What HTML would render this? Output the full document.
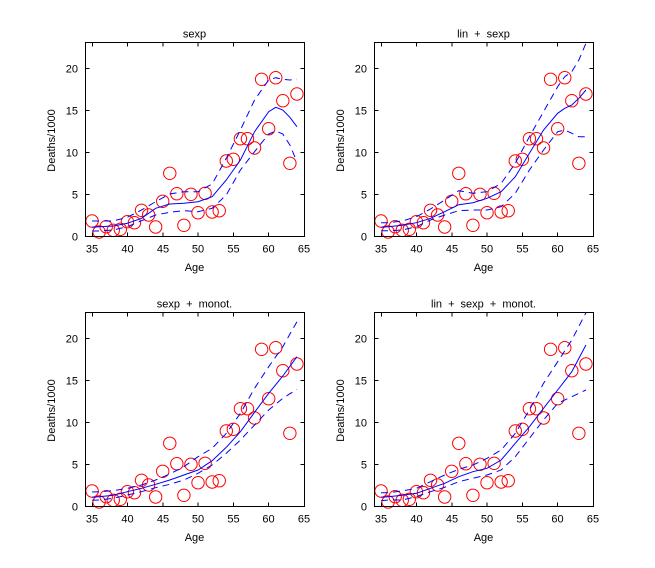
<!DOCTYPE html>
<html><head><meta charset="utf-8"><style>
html,body{margin:0;padding:0;background:#fff;}
svg{display:block;}
text{font-family:"Liberation Sans",sans-serif;font-size:11px;fill:#000;}
.t{word-spacing:3px;}
.ax{fill:none;stroke:#000;stroke-width:1;}
.pt{fill:none;stroke:#f00;stroke-width:1;}
.m{fill:none;stroke:#00f;stroke-width:1;}
.d{fill:none;stroke:#00f;stroke-width:1;stroke-dasharray:7 5;}
</style></head><body>
<svg width="655" height="568" viewBox="0 0 655 568" xmlns="http://www.w3.org/2000/svg">
<rect width="655" height="568" fill="#fff"/>
<defs>
<g id="pts">
<circle class="pt" r="6.2" cx="92.06" cy="221"/><circle class="pt" r="6.2" cx="99.13" cy="232"/><circle class="pt" r="6.2" cx="106.19" cy="226.7"/><circle class="pt" r="6.2" cx="113.26" cy="230.3"/><circle class="pt" r="6.2" cx="120.32" cy="229.3"/><circle class="pt" r="6.2" cx="127.39" cy="221.7"/><circle class="pt" r="6.2" cx="134.45" cy="222.7"/><circle class="pt" r="6.2" cx="141.52" cy="210.3"/><circle class="pt" r="6.2" cx="148.58" cy="215"/><circle class="pt" r="6.2" cx="155.65" cy="227"/><circle class="pt" r="6.2" cx="162.71" cy="201.3"/><circle class="pt" r="6.2" cx="169.77" cy="173.3"/><circle class="pt" r="6.2" cx="176.84" cy="193.7"/><circle class="pt" r="6.2" cx="183.9" cy="225.3"/><circle class="pt" r="6.2" cx="190.97" cy="194.3"/><circle class="pt" r="6.2" cx="198.03" cy="212.7"/><circle class="pt" r="6.2" cx="205.1" cy="193.3"/><circle class="pt" r="6.2" cx="212.16" cy="212"/><circle class="pt" r="6.2" cx="219.23" cy="210.7"/><circle class="pt" r="6.2" cx="226.29" cy="161"/><circle class="pt" r="6.2" cx="233.35" cy="159.3"/><circle class="pt" r="6.2" cx="240.42" cy="138.7"/><circle class="pt" r="6.2" cx="247.48" cy="138.7"/><circle class="pt" r="6.2" cx="254.55" cy="148"/><circle class="pt" r="6.2" cx="261.61" cy="79.3"/><circle class="pt" r="6.2" cx="268.68" cy="128.7"/><circle class="pt" r="6.2" cx="275.74" cy="77.7"/><circle class="pt" r="6.2" cx="282.81" cy="100.7"/><circle class="pt" r="6.2" cx="289.87" cy="163.3"/><circle class="pt" r="6.2" cx="296.94" cy="94"/>
</g>
<path id="frm" class="ax" d="M85.5 42.5H304.5V236.5H85.5Z
M85.5 236.5h4M85.5 194.5h4M85.5 152.5h4M85.5 110.5h4M85.5 68.5h4
M304.5 236.5h-4M304.5 194.5h-4M304.5 152.5h-4M304.5 110.5h-4M304.5 68.5h-4
M92.5 236.5v-4M127.5 236.5v-4M163 236.5v-4M198 236.5v-4M233.5 236.5v-4M268.5 236.5v-4
M92.5 42.5v4M127.5 42.5v4M163 42.5v4M198 42.5v4M233.5 42.5v4M268.5 42.5v4"/>
</defs>

<!-- Panel 1 -->
<g>
<use href="#pts"/>
<use href="#frm"/>
<polyline class="m" points="92.06,227.3 99.13,226.7 113.26,226 127.39,223.3 141.52,218.3 155.65,208.3 169.77,204 183.9,203.3 198.03,201.7 212.16,196.7 226.29,180 240.42,160 254.55,131.7 268.68,111.7 275.74,107.3 282.81,110 289.87,117.3 296.94,126.7"/>
<polyline class="d" points="92.06,221 99.13,221 113.26,221 127.39,217.3 141.52,210 155.65,201.7 169.77,194 183.9,191.7 198.03,191.7 212.16,184 226.29,158.3 240.42,130 254.55,100 268.68,80 275.74,77.7 282.81,79.3 289.87,80 296.94,79.3"/>
<polyline class="d" points="92.06,231 99.13,231 113.26,230 127.39,226.7 141.52,220.7 155.65,215 169.77,212.3 183.9,210.7 198.03,211.7 212.16,208.3 226.29,195 240.42,170 254.55,151.7 268.68,134 275.74,131 282.81,134 289.87,145 296.94,161.7"/>
<text class="t" x="194.5" y="37.5" text-anchor="middle">sexp</text>
<text x="78" y="240.5" text-anchor="end">0</text><text x="78" y="198.5" text-anchor="end">5</text><text x="78" y="156.5" text-anchor="end">10</text><text x="78" y="114.5" text-anchor="end">15</text><text x="78" y="72.5" text-anchor="end">20</text>
<text x="92" y="252.5" text-anchor="middle">35</text><text x="127.5" y="252.5" text-anchor="middle">40</text><text x="163" y="252.5" text-anchor="middle">45</text><text x="198" y="252.5" text-anchor="middle">50</text><text x="233.5" y="252.5" text-anchor="middle">55</text><text x="268.5" y="252.5" text-anchor="middle">60</text><text x="304" y="252.5" text-anchor="middle">65</text>
<text x="194.5" y="271" text-anchor="middle">Age</text>
<text transform="translate(55,140.5) rotate(-90)" text-anchor="middle">Deaths/1000</text>
</g>

<!-- Panel 2 -->
<g transform="translate(289,0)">
<use href="#pts"/>
<use href="#frm"/>
<polyline class="m" points="92.06,227.3 99.13,226.7 113.26,225.3 127.39,222.7 141.52,218.3 155.65,211.7 169.77,204.7 183.9,202.7 198.03,198.3 212.16,191.7 226.29,176.7 240.42,153.3 254.55,130 268.68,113.3 275.74,108.3 282.81,105 289.87,98.3 296.94,90"/>
<polyline class="d" points="92.06,222.7 99.13,222.7 113.26,221 127.39,216.7 141.52,209 155.65,200 169.77,190.7 183.9,193.3 198.03,191.7 212.16,183.3 226.29,163.3 240.42,136.7 254.55,111.7 268.68,86.7 275.74,76.7 282.81,71.7 289.87,60 296.94,43.3"/>
<polyline class="d" points="92.06,230.7 99.13,230.7 113.26,230 127.39,226.7 141.52,220 155.65,215 169.77,210.7 183.9,210 198.03,210 212.16,206.7 226.29,193.3 240.42,170 254.55,150 268.68,131.7 275.74,130 282.81,133.3 289.87,136.7 296.94,136.7"/>
<text class="t" x="194.5" y="37.5" text-anchor="middle">lin + sexp</text>
<text x="78" y="240.5" text-anchor="end">0</text><text x="78" y="198.5" text-anchor="end">5</text><text x="78" y="156.5" text-anchor="end">10</text><text x="78" y="114.5" text-anchor="end">15</text><text x="78" y="72.5" text-anchor="end">20</text>
<text x="92" y="252.5" text-anchor="middle">35</text><text x="127.5" y="252.5" text-anchor="middle">40</text><text x="163" y="252.5" text-anchor="middle">45</text><text x="198" y="252.5" text-anchor="middle">50</text><text x="233.5" y="252.5" text-anchor="middle">55</text><text x="268.5" y="252.5" text-anchor="middle">60</text><text x="304" y="252.5" text-anchor="middle">65</text>
<text x="194.5" y="271" text-anchor="middle">Age</text>
<text transform="translate(55,140.5) rotate(-90)" text-anchor="middle">Deaths/1000</text>
</g>

<!-- Panel 3 -->
<g transform="translate(0,270)">
<use href="#pts"/>
<use href="#frm"/>
<polyline class="m" points="92.06,227.3 99.13,226.7 113.26,225.3 127.39,221.7 141.52,218.3 155.65,214.3 169.77,210 183.9,205 198.03,200 212.16,190.7 226.29,177.3 240.42,161.7 254.55,142.3 268.68,123.3 282.81,106 296.94,86.7"/>
<polyline class="d" points="92.06,222 99.13,221.7 113.26,220.7 127.39,218.3 141.52,215 155.65,210 169.77,204 183.9,196.7 198.03,186.7 212.16,178.3 226.29,163.3 240.42,143.3 254.55,118.3 268.68,96.7 282.81,76.7 296.94,51.7"/>
<polyline class="d" points="92.06,230.3 99.13,230 113.26,228.3 127.39,225 141.52,221.7 155.65,217.7 169.77,214.3 183.9,210 198.03,203.3 212.16,195 226.29,183.3 240.42,170 254.55,155 268.68,140 282.81,128.3 296.94,119.3"/>
<text class="t" x="194.5" y="37.5" text-anchor="middle">sexp + monot.</text>
<text x="78" y="240.5" text-anchor="end">0</text><text x="78" y="198.5" text-anchor="end">5</text><text x="78" y="156.5" text-anchor="end">10</text><text x="78" y="114.5" text-anchor="end">15</text><text x="78" y="72.5" text-anchor="end">20</text>
<text x="92" y="252.5" text-anchor="middle">35</text><text x="127.5" y="252.5" text-anchor="middle">40</text><text x="163" y="252.5" text-anchor="middle">45</text><text x="198" y="252.5" text-anchor="middle">50</text><text x="233.5" y="252.5" text-anchor="middle">55</text><text x="268.5" y="252.5" text-anchor="middle">60</text><text x="304" y="252.5" text-anchor="middle">65</text>
<text x="194.5" y="271" text-anchor="middle">Age</text>
<text transform="translate(55,140.5) rotate(-90)" text-anchor="middle">Deaths/1000</text>
</g>

<!-- Panel 4 -->
<g transform="translate(289,270)">
<use href="#pts"/>
<use href="#frm"/>
<polyline class="m" points="92.06,227.3 99.13,226.7 113.26,225.3 127.39,223.3 141.52,218.3 155.65,213.3 169.77,206.7 183.9,201.7 198.03,198.3 212.16,190 226.29,173.3 240.42,156.7 254.55,138.3 268.68,120 282.81,101.7 296.94,75"/>
<polyline class="d" points="92.06,222.7 99.13,222.7 113.26,221 127.39,218.3 141.52,211.7 155.65,205 169.77,199.3 183.9,195 198.03,188.3 212.16,180 226.29,163.3 240.42,140 254.55,113.3 268.68,91.7 282.81,70 296.94,42.7"/>
<polyline class="d" points="92.06,230.7 99.13,230 113.26,230 127.39,226.7 141.52,221.7 155.65,217.3 169.77,211.7 183.9,208.3 198.03,205 212.16,200 226.29,186.7 240.42,168.3 254.55,150 268.68,133.3 282.81,126.7 296.94,120"/>
<text class="t" x="194.5" y="37.5" text-anchor="middle">lin + sexp + monot.</text>
<text x="78" y="240.5" text-anchor="end">0</text><text x="78" y="198.5" text-anchor="end">5</text><text x="78" y="156.5" text-anchor="end">10</text><text x="78" y="114.5" text-anchor="end">15</text><text x="78" y="72.5" text-anchor="end">20</text>
<text x="92" y="252.5" text-anchor="middle">35</text><text x="127.5" y="252.5" text-anchor="middle">40</text><text x="163" y="252.5" text-anchor="middle">45</text><text x="198" y="252.5" text-anchor="middle">50</text><text x="233.5" y="252.5" text-anchor="middle">55</text><text x="268.5" y="252.5" text-anchor="middle">60</text><text x="304" y="252.5" text-anchor="middle">65</text>
<text x="194.5" y="271" text-anchor="middle">Age</text>
<text transform="translate(55,140.5) rotate(-90)" text-anchor="middle">Deaths/1000</text>
</g>
</svg>
</body></html>
